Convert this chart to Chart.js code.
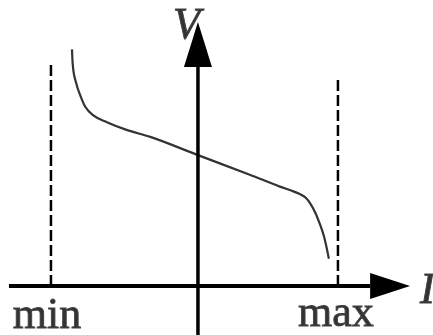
<!DOCTYPE html>
<html>
<head>
<meta charset="utf-8">
<script src="https://cdn.jsdelivr.net/npm/chart.js@4/dist/chart.umd.min.js"></script>
<style>
  html, body { margin: 0; padding: 0; background: #fff; }
  .chart-container { width: 433px; height: 335px; position: relative; }
</style>
</head>
<body>
<div class="chart-container">
  <canvas id="chart"></canvas>
</div>
<script>
// V-I curve (arbitrary units, origin where the axes cross)
const curveI = [-9.0, -8.95, -8.7, -8.4, -8.05, -7.5, -6.5, -5.1, -3.4, 0, 3.7, 5.85, 6.7, 7.3, 7.7, 8.05, 8.4, 8.7, 9.0, 9.2, 9.35]
const curveV = [16.9, 15.9, 14.5, 13.6, 12.8, 12.2, 11.7, 11.15, 10.65, 9.35, 7.95, 7.1, 6.8, 6.55, 6.3, 5.85, 5.2, 4.45, 3.55, 2.7, 1.95]

// current limits (dashed lines) and their labels
const limitI = [-10.5, 10.0]
const limitTop = [15.9, 14.8]
const limitLabels = ["min", "max"]

// axes: start, end of shaft, tip of arrow
const iAxis = [-13.5, 12.3, 15.15]
const vAxis = [-3.6, 15.65, 18.85]
const axisLabels = ["I", "V"]

const toPts = (xs, ys) => xs.map((x, i) => ({ x: x, y: ys[i] }))

const serif = "\"Liberation Serif\", \"Times New Roman\", serif"

// text drawn a little heavier, like the scanned original
const heavyText = (ctx, text, x, y) => {
  ctx.fillText(text, x, y)
  ctx.strokeText(text, x, y)
}

// arrowheads and text labels, placed through the chart scales
const decorations = {
  id: "decorations",
  afterDatasetsDraw(chart) {
    const { ctx, scales } = chart
    const px = (v) => scales.x.getPixelForValue(v)
    const py = (v) => scales.y.getPixelForValue(v)
    ctx.save()
    ctx.fillStyle = "#000"

    // arrow on I axis
    ctx.beginPath()
    ctx.moveTo(px(iAxis[1]), py(0) - 13)
    ctx.lineTo(px(iAxis[2]), py(0))
    ctx.lineTo(px(iAxis[1]), py(0) + 13)
    ctx.closePath()
    ctx.fill()

    // arrow on V axis
    ctx.beginPath()
    ctx.moveTo(px(0) - 14, py(vAxis[1]))
    ctx.lineTo(px(0), py(vAxis[2]))
    ctx.lineTo(px(0) + 14, py(vAxis[1]))
    ctx.closePath()
    ctx.fill()

    // min / max labels
    ctx.fillStyle = "#333"
    ctx.strokeStyle = "#444"
    ctx.lineWidth = 0.9
    ctx.font = "44px " + serif
    ctx.textAlign = "center"
    ctx.textBaseline = "alphabetic"
    heavyText(ctx, limitLabels[0], px(limitI[0]) - 4, py(0) + 42)
    heavyText(ctx, limitLabels[1], px(limitI[1]) - 2, py(0) + 40)

    // axis names
    ctx.font = "italic 44px " + serif
    ctx.textAlign = "left"
    heavyText(ctx, axisLabels[0], px(iAxis[2]) + 10, py(0) + 17)
    ctx.textAlign = "right"
    heavyText(ctx, axisLabels[1], px(0) + 2, py(vAxis[2]) + 16)
    ctx.restore()
  },
}

const ctx = document.getElementById("chart").getContext("2d")

new Chart(ctx, {
  type: "scatter",
  data: {
    datasets: [
      {
        // I axis
        data: toPts([iAxis[0], iAxis[1]], [0, 0]),
        showLine: true,
        borderColor: "#000",
        borderWidth: 4,
        pointRadius: 0,
      },
      {
        // V axis
        data: toPts([0, 0], [vAxis[0], vAxis[1]]),
        showLine: true,
        borderColor: "#000",
        borderWidth: 3.5,
        pointRadius: 0,
      },
      {
        // min limit
        data: toPts([limitI[0], limitI[0]], [0, limitTop[0]]),
        showLine: true,
        borderColor: "#000",
        borderWidth: 2.5,
        borderDash: [11, 4],
        pointRadius: 0,
      },
      {
        // max limit
        data: toPts([limitI[1], limitI[1]], [0, limitTop[1]]),
        showLine: true,
        borderColor: "#000",
        borderWidth: 2.5,
        borderDash: [11, 4],
        pointRadius: 0,
      },
      {
        // V-I curve
        data: toPts(curveI, curveV),
        showLine: true,
        borderColor: "#333",
        borderWidth: 2.2,
        pointRadius: 0,
        cubicInterpolationMode: "monotone",
      },
    ],
  },
  options: {
    responsive: true,
    maintainAspectRatio: false,
    animation: false,
    layout: { padding: 0 },
    plugins: {
      legend: { display: false },
      tooltip: { enabled: false },
    },
    scales: {
      x: { type: "linear", min: -14.14, max: 16.79, display: false },
      y: { type: "linear", min: -3.5, max: 20.43, display: false },
    },
  },
  plugins: [decorations],
})
</script>
</body>
</html>
